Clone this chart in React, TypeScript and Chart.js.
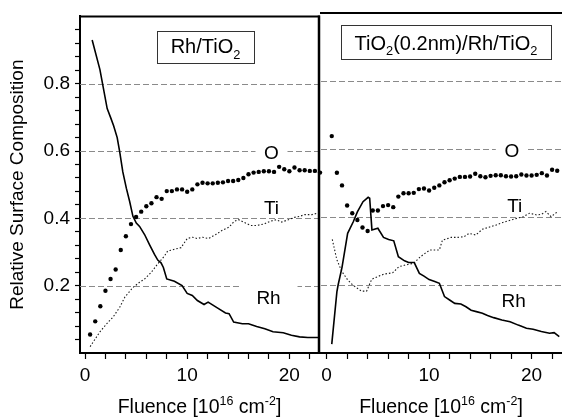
import { useEffect, useRef } from "react";
import { Chart, registerables } from "chart.js";
Chart.register(...registerables);

const FONT = "'Liberation Sans', Arial, Helvetica, sans-serif";

// ---------- data: left panel (Rh/TiO2) ----------
const leftRhX = [0.7, 1.46, 2.17, 2.5, 2.8, 3.15, 3.4, 3.7, 4.05, 4.37, 4.69, 5.02, 5.34, 5.83, 6.31, 6.8, 7.12, 7.44, 7.67, 8.0, 8.75, 9.5, 10.0, 10.5, 11.0, 11.65, 12.05, 12.95, 13.75, 14.1, 14.55, 15.4, 16.0, 16.8, 17.6, 18.4, 19.4, 20.2, 21.0, 21.8, 22.8];
const leftRhY = [0.93, 0.842, 0.726, 0.70, 0.675, 0.64, 0.597, 0.538, 0.489, 0.45, 0.406, 0.386, 0.376, 0.352, 0.322, 0.293, 0.276, 0.268, 0.254, 0.22, 0.213, 0.2, 0.177, 0.171, 0.156, 0.144, 0.151, 0.134, 0.119, 0.117, 0.092, 0.087, 0.087, 0.079, 0.072, 0.063, 0.06, 0.053, 0.048, 0.046, 0.046];

const leftTiX = [0.5, 1.46, 2.27, 2.75, 3.4, 3.9, 4.7, 5.34, 5.83, 6.47, 7.1, 7.77, 8.09, 8.74, 9.4, 10.0, 10.5, 11.0, 11.5, 12.1, 12.8, 13.4, 14.1, 14.6, 15.05, 15.5, 16.2, 16.8, 17.5, 18.1, 18.7, 19.25, 19.9, 20.5, 21.0, 21.5, 22.2, 22.8];
const leftTiY = [0.019, 0.063, 0.092, 0.107, 0.136, 0.166, 0.195, 0.21, 0.22, 0.239, 0.264, 0.288, 0.303, 0.308, 0.313, 0.34, 0.344, 0.34, 0.344, 0.34, 0.352, 0.364, 0.374, 0.391, 0.396, 0.389, 0.379, 0.379, 0.383, 0.391, 0.396, 0.389, 0.396, 0.403, 0.406, 0.411, 0.411, 0.416];

const leftOX = [0.5, 1.0, 1.5, 2.0, 2.5, 3.0, 3.5, 4.0, 4.5, 5.0, 5.5, 6.0, 6.5, 7.0, 7.5, 8.0, 8.5, 9.0, 9.5, 10.0, 10.5, 11.0, 11.5, 12.0, 12.5, 13.0, 13.5, 14.0, 14.5, 15.0, 15.5, 16.0, 16.5, 17.0, 17.5, 18.0, 18.5, 19.0, 19.5, 20.0, 20.5, 21.0, 21.5, 22.0, 22.5, 23.0];
const leftOY = [0.055, 0.094, 0.139, 0.185, 0.22, 0.248, 0.306, 0.347, 0.383, 0.404, 0.42, 0.436, 0.445, 0.463, 0.458, 0.481, 0.481, 0.486, 0.486, 0.479, 0.486, 0.501, 0.506, 0.504, 0.504, 0.506, 0.507, 0.511, 0.511, 0.514, 0.52, 0.531, 0.536, 0.538, 0.54, 0.54, 0.538, 0.553, 0.546, 0.54, 0.551, 0.543, 0.543, 0.541, 0.541, 0.536];

// ---------- data: right panel (TiO2(0.2nm)/Rh/TiO2) ----------
const rightRhX = [0.5, 1.0, 1.12, 1.5, 2.05, 2.6, 3.0, 3.55, 4.05, 4.2, 4.42, 5.0, 5.55, 6.05, 6.55, 7.0, 7.6, 8.0, 8.55, 9.05, 9.5, 10.0, 10.55, 11.0, 11.5, 12.0, 12.5, 13.1, 13.6, 14.1, 14.7, 15.2, 15.7, 16.3, 17.1, 17.9, 18.7, 19.5, 20.15, 20.95, 21.75, 22.2, 22.7];
const rightRhY = [0.026, 0.18, 0.2, 0.252, 0.352, 0.386, 0.415, 0.445, 0.458, 0.455, 0.362, 0.367, 0.34, 0.334, 0.33, 0.283, 0.271, 0.266, 0.266, 0.234, 0.226, 0.216, 0.21, 0.205, 0.166, 0.156, 0.146, 0.144, 0.136, 0.126, 0.121, 0.117, 0.11, 0.104, 0.097, 0.092, 0.082, 0.073, 0.07, 0.063, 0.058, 0.06, 0.048];

const rightTiX = [0.55, 1.0, 1.5, 2.05, 2.55, 3.4, 3.9, 4.4, 5.0, 5.6, 6.45, 7.05, 7.7, 8.5, 9.15, 9.6, 10.1, 11.0, 11.3, 12.15, 12.8, 13.4, 13.9, 14.55, 15.2, 15.85, 16.5, 17.1, 17.75, 18.55, 19.2, 19.8, 20.5, 20.95, 21.4, 21.9, 22.55];
const rightTiY = [0.334, 0.274, 0.239, 0.215, 0.2, 0.182, 0.182, 0.217, 0.225, 0.232, 0.236, 0.254, 0.259, 0.264, 0.283, 0.293, 0.303, 0.303, 0.332, 0.34, 0.34, 0.342, 0.352, 0.347, 0.364, 0.37, 0.376, 0.383, 0.389, 0.396, 0.401, 0.411, 0.406, 0.408, 0.416, 0.401, 0.416];

const rightOX = [0.5, 1.0, 1.5, 2.0, 2.5, 3.0, 3.5, 4.0, 4.5, 5.0, 5.5, 6.0, 6.5, 7.0, 7.5, 8.0, 8.5, 9.0, 9.5, 10.0, 10.5, 11.0, 11.5, 12.0, 12.5, 13.0, 13.5, 14.0, 14.5, 15.0, 15.5, 16.0, 16.5, 17.0, 17.5, 18.0, 18.5, 19.0, 19.5, 20.0, 20.5, 21.0, 21.5, 22.0, 22.5];
const rightOY = [0.638, 0.53, 0.493, 0.434, 0.411, 0.391, 0.369, 0.359, 0.419, 0.419, 0.432, 0.435, 0.429, 0.46, 0.47, 0.47, 0.471, 0.482, 0.484, 0.478, 0.486, 0.493, 0.502, 0.508, 0.513, 0.518, 0.518, 0.519, 0.527, 0.52, 0.517, 0.521, 0.523, 0.523, 0.52, 0.519, 0.52, 0.525, 0.522, 0.522, 0.524, 0.529, 0.522, 0.539, 0.536];

// ---------- axes ----------
const xTickValues = [0, 2, 4, 6, 8, 10, 12, 14, 16, 18, 20, 22];
const xTickLabels = [0, 10, 20];
const yTickValues = [0.04, 0.08, 0.12, 0.16, 0.2, 0.24, 0.28, 0.32, 0.36, 0.4, 0.44, 0.48, 0.52, 0.56, 0.6, 0.64, 0.68, 0.72, 0.76, 0.8, 0.84, 0.88, 0.92, 0.96];
const yTickLabels = [0.2, 0.4, 0.6, 0.8];
const yGridValues = [0.2, 0.4, 0.6, 0.8];

const yTitle = "Relative Surface Composition";
type Seg = { t: string; k?: "sup" | "sub" };
const xTitle: Seg[] = [{ t: "Fluence [10" }, { t: "16", k: "sup" }, { t: " cm" }, { t: "-2", k: "sup" }, { t: "]" }];
const leftTitle: Seg[] = [{ t: "Rh/TiO" }, { t: "2", k: "sub" }];
const rightTitle: Seg[] = [{ t: "TiO" }, { t: "2", k: "sub" }, { t: "(0.2nm)/Rh/TiO" }, { t: "2", k: "sub" }];

type Lbl = { text: string; x: number; y: number; gap: number };
const leftLabels: Lbl[] = [
  { text: "O", x: 18.25, y: 0.597, gap: 32 },
  { text: "Ti", x: 18.25, y: 0.435, gap: 0 },
  { text: "Rh", x: 17.96, y: 0.165, gap: 58 },
];
const rightLabels: Lbl[] = [
  { text: "O", x: 18.07, y: 0.597, gap: 32 },
  { text: "Ti", x: 18.36, y: 0.435, gap: 0 },
  { text: "Rh", x: 18.26, y: 0.156, gap: 32 },
];

const pts = (xs: number[], ys: number[]) => xs.map((x, i) => ({ x, y: ys[i] }));

function drawRich(ctx: CanvasRenderingContext2D, segs: Seg[], cx: number, baseline: number, size: number) {
  const small = size * 0.64;
  const widths = segs.map((s) => {
    ctx.font = `${s.k ? small : size}px ${FONT}`;
    return ctx.measureText(s.t).width;
  });
  const total = widths.reduce((a, b) => a + b, 0);
  let x = cx - total / 2;
  ctx.textAlign = "left";
  ctx.textBaseline = "alphabetic";
  segs.forEach((s, i) => {
    ctx.font = `${s.k ? small : size}px ${FONT}`;
    const dy = s.k === "sup" ? -size * 0.42 : s.k === "sub" ? size * 0.26 : 0;
    ctx.fillText(s.t, x, baseline + dy);
    x += widths[i];
  });
}

type Decor = {
  labels: Lbl[];
  title: Seg[];
  box: { dx: number; dy: number; w: number; h: number; base: number };
  divider: boolean;
};

function decorPlugin(d: Decor) {
  return {
    id: "decor",
    beforeDatasetsDraw(chart: any) {
      const { ctx, chartArea: a, scales } = chart;
      const xs = scales.x, ys = scales.y;
      ctx.save();
      ctx.strokeStyle = "#8a8a8a";
      ctx.lineWidth = 1;
      ctx.setLineDash([6, 3]);
      yGridValues.forEach((v) => {
        const py = Math.round(ys.getPixelForValue(v)) + 0.5;
        ctx.beginPath();
        ctx.moveTo(a.left, py);
        ctx.lineTo(a.right, py);
        ctx.stroke();
      });
      ctx.setLineDash([]);
      d.labels.forEach((l) => {
        const px = xs.getPixelForValue(l.x);
        const py = ys.getPixelForValue(l.y);
        if (l.gap > 0) {
          ctx.fillStyle = "#fff";
          ctx.fillRect(px - l.gap / 2, py - 13, l.gap, 26);
        }
        ctx.fillStyle = "#000";
        ctx.font = `19px ${FONT}`;
        ctx.textAlign = "center";
        ctx.textBaseline = "alphabetic";
        ctx.fillText(l.text, px, py + 7);
      });
      const bx = a.left + d.box.dx, by = a.top + d.box.dy;
      ctx.fillStyle = "#fff";
      ctx.fillRect(bx, by, d.box.w, d.box.h);
      ctx.strokeStyle = "#333";
      ctx.lineWidth = 1;
      ctx.strokeRect(Math.round(bx) + 0.5, Math.round(by) + 0.5, d.box.w, d.box.h);
      ctx.fillStyle = "#000";
      drawRich(ctx, d.title, bx + d.box.w / 2, a.top + d.box.base, 20);
      ctx.restore();
    },
    afterDraw(chart: any) {
      const { ctx, chartArea: a } = chart;
      ctx.save();
      ctx.strokeStyle = "#000";
      ctx.lineWidth = 2;
      ctx.beginPath();
      ctx.moveTo(a.left - 1, a.top);
      ctx.lineTo(a.right + 1, a.top);
      ctx.stroke();
      if (d.divider) {
        ctx.lineWidth = 2.5;
        ctx.beginPath();
        ctx.moveTo(a.right, a.top - 1);
        ctx.lineTo(a.right, a.bottom + 1);
        ctx.stroke();
      }
      ctx.fillStyle = "#000";
      drawRich(ctx, xTitle, (a.left + a.right) / 2, 413, 19.5);
      ctx.restore();
    },
  };
}

function makeConfig(opts: {
  rh: { x: number; y: number }[];
  ti: { x: number; y: number }[];
  o: { x: number; y: number }[];
  xmin: number;
  xmax: number;
  padding: { left: number; right: number };
  showY: boolean;
  decor: Decor;
}): any {
  const tickFont = { family: FONT, size: 19 };
  return {
    type: "scatter",
    data: {
      datasets: [
        { label: "Rh", data: opts.rh, showLine: true, borderColor: "#000", borderWidth: 1.6, pointRadius: 0, tension: 0 },
        { label: "Ti", data: opts.ti, showLine: true, borderColor: "#1a1a1a", borderWidth: 1.1, borderDash: [1.5, 2], pointRadius: 0, tension: 0 },
        { label: "O", data: opts.o, showLine: false, pointRadius: 2.2, pointBackgroundColor: "#000", pointBorderWidth: 0, pointBorderColor: "#000", clip: false },
      ],
    },
    options: {
      animation: false,
      responsive: false,
      maintainAspectRatio: false,
      events: [],
      layout: { padding: { top: 13, bottom: 0, left: opts.padding.left, right: opts.padding.right } },
      plugins: { legend: { display: false }, tooltip: { enabled: false } },
      scales: {
        x: {
          type: "linear",
          min: opts.xmin,
          max: opts.xmax,
          afterBuildTicks: (s: any) => { s.ticks = xTickValues.map((v) => ({ value: v })); },
          afterFit: (s: any) => { s.height = 64; },
          grid: { drawOnChartArea: false, drawTicks: true, tickLength: 6, tickColor: "#000", tickWidth: 1.2 },
          border: { display: true, color: "#000", width: 2 },
          ticks: {
            autoSkip: false,
            maxRotation: 0,
            minRotation: 0,
            padding: 5,
            color: "#000",
            font: tickFont,
            callback: (v: number) => (xTickLabels.includes(v) ? String(v) : ""),
          },
        },
        y: {
          type: "linear",
          display: opts.showY,
          min: 0,
          max: 1,
          afterBuildTicks: (s: any) => { s.ticks = yTickValues.map((v) => ({ value: v })); },
          afterFit: (s: any) => { s.width = opts.showY ? 80 : 0; },
          grid: { drawOnChartArea: false, drawTicks: true, tickLength: 5, tickColor: "#000", tickWidth: 1.2 },
          border: { display: true, color: "#000", width: 2 },
          title: { display: true, text: yTitle, color: "#000", font: { family: FONT, size: 19 }, padding: { top: 6, bottom: 0 } },
          ticks: {
            autoSkip: false,
            padding: 5,
            color: "#000",
            font: tickFont,
            callback: (v: number) => {
              const m = yTickLabels.find((l) => Math.abs(l - v) < 1e-6);
              return m !== undefined ? m.toFixed(1) : "";
            },
          },
        },
      },
    },
    plugins: [decorPlugin(opts.decor)],
  };
}

export default function App() {
  const leftRef = useRef<HTMLCanvasElement>(null);
  const rightRef = useRef<HTMLCanvasElement>(null);

  useEffect(() => {
    const left = new Chart(leftRef.current!, makeConfig({
      rh: pts(leftRhX, leftRhY),
      ti: pts(leftTiX, leftTiY),
      o: pts(leftOX, leftOY),
      xmin: -0.49,
      xmax: 22.9,
      padding: { left: 0, right: 2 },
      showY: true,
      decor: { labels: leftLabels, title: leftTitle, box: { dx: 77, dy: 15, w: 97, h: 32, base: 37 }, divider: true },
    }));
    const right = new Chart(rightRef.current!, makeConfig({
      rh: pts(rightRhX, rightRhY),
      ti: pts(rightTiX, rightTiY),
      o: pts(rightOX, rightOY),
      xmin: -0.55,
      xmax: 22.87,
      padding: { left: 21, right: 0 },
      showY: false,
      decor: { labels: rightLabels, title: rightTitle, box: { dx: 20, dy: 12, w: 210, h: 34, base: 37 }, divider: false },
    }));
    return () => { left.destroy(); right.destroy(); };
  }, []);

  return (
    <div style={{ position: "absolute", left: 0, top: 0, width: 565, height: 417, background: "#fff", overflow: "hidden" }}>
      <canvas ref={rightRef} width={265} height={417} style={{ position: "absolute", left: 300, top: 0, width: 265, height: 417 }} />
      <canvas ref={leftRef} width={323} height={417} style={{ position: "absolute", left: 0, top: 0, width: 323, height: 417 }} />
    </div>
  );
}
